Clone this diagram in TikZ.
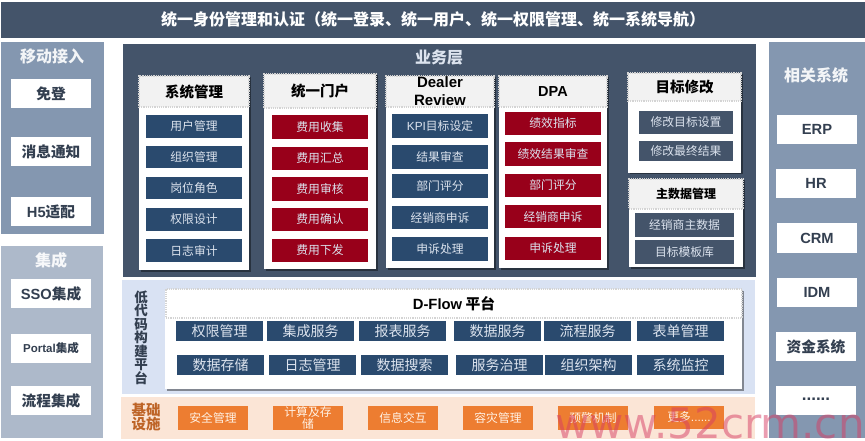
\documentclass[tikz,border=0pt]{standalone}
\usepackage{fontspec}
\setmainfont{Noto Sans CJK SC}
\newfontfamily\lat{Liberation Sans}
\newfontfamily\wmfont{DejaVu Sans}
\usetikzlibrary{shadows}
\definecolor{slate}{HTML}{44546A}
\definecolor{steel}{HTML}{8497B0}
\definecolor{pale}{HTML}{ADB9CA}
\definecolor{navy}{HTML}{2A4A6E}
\definecolor{wine}{HTML}{98001A}
\definecolor{lowbg}{HTML}{D9E2F3}
\definecolor{infrabg}{HTML}{FBE5D6}
\definecolor{orangebox}{HTML}{ED7D31}
\definecolor{hdr}{HTML}{F2F2F2}
\definecolor{dots}{HTML}{D4D4D4}
\definecolor{lighttext}{HTML}{DCE3EE}
\definecolor{ink}{HTML}{333F50}
\newcommand{\fs}[1]{\fontsize{#1}{#1}\selectfont}
\tikzset{
 x=1pt,y=-1pt,
 blk/.style={inner sep=0pt,outer sep=0pt,align=center},
 band/.style={blk,fill=#1},
 wbox/.style={blk,fill=white,text=ink,font=\fs{14.7}\bfseries},
 card/.style={blk,fill=white,drop shadow={shadow xshift=1.5pt,shadow yshift=-1.5pt,fill=black,opacity=.4}},
 head/.style={blk,fill=hdr,draw=dots,densely dotted,line width=1.2pt,text=black,font=\fs{14.5}\bfseries},
 item/.style={blk,fill=navy,text=lighttext,font=\fs{11.8}},
 redit/.style={blk,fill=wine,text=lighttext,font=\fs{11.8}},
 slit/.style={blk,fill=slate,text=lighttext,font=\fs{11.8}},
 flit/.style={blk,fill=navy,text=lighttext,font=\fs{14}},
 orit/.style={blk,fill=orangebox,text=white!90!orange,font=\fs{11.8}},
 lbl/.style={blk},
}
\newcommand{\bx}[7][]{\node[#2,#1,minimum width={(#5-#3)*1pt},minimum height={(#6-#4)*1pt}] (#7) at ({(#3+#5)/2},{(#4+#6)/2})}
\begin{document}
\begin{tikzpicture}
\useasboundingbox (0,0) rectangle (865,441);
\clip (0,0) rectangle (865,441);
% bands
\bx{band=slate}{1}{2}{865}{38}{top} {};
\node[lbl,text=white,font=\fs{16}\bfseries] (title) at (433,19.5) {统一身份管理和认证（统一登录、统一用户、统一权限管理、统一系统导航）};
\bx{band=steel}{1}{42}{104}{234}{pmobile} {};
\bx{band=pale}{1}{246}{103}{438}{pinteg} {};
\bx{band=slate}{123}{44}{756}{277}{pbiz} {};
\bx{band=lowbg}{122}{280}{755}{394}{plow} {};
\bx{band=infrabg}{121}{397}{755}{439}{pinfra} {};
\bx{band=steel}{769}{42}{865}{438}{prel} {};
% left
\node[lbl,text=white!90!steel,font=\fs{16}\bfseries] (tmobile) at (52,56.5) {移动接入};
\bx{wbox}{11}{79}{91}{108}{l1} {免登};
\bx{wbox}{11}{137}{91}{166}{l2} {消息通知};
\bx{wbox}{11}{197}{91}{226}{l3} {{\lat\bfseries H5}适配};
\node[lbl,text=white!90!pale,font=\fs{16}\bfseries] (tinteg) at (51,260) {集成};
\bx{wbox}{11}{279}{91}{308}{l4} {{\lat\bfseries SSO}集成};
\bx[font=\fs{11.5}\bfseries]{wbox}{11}{334}{91}{363}{l5} {{\lat\bfseries Portal}集成};
\bx{wbox}{11}{386}{91}{415}{l6} {流程集成};
% right
\node[lbl,text=white!90!steel,font=\fs{16}\bfseries] (trel) at (816,75) {相关系统};
\bx{wbox}{777}{115}{857}{144}{r1} {\lat\bfseries ERP};
\bx{wbox}{776}{169}{856}{198}{r2} {\lat\bfseries HR};
\bx{wbox}{777}{223}{857}{253}{r3} {\lat\bfseries CRM};
\bx{wbox}{777}{278}{857}{307}{r4} {\lat\bfseries IDM};
\bx{wbox}{776}{332}{856}{361}{r5} {资金系统};
\bx{wbox}{776}{386}{856}{415}{r6} {\raisebox{3pt}{\fontsize{17}{17}\selectfont\lat\bfseries ......}};
% business
\node[lbl,text=lighttext,font=\fs{16}\bfseries] (tbiz) at (439,58) {业务层};
% col 1
\bx{card}{139}{76}{249}{270}{c1} {};
\bx{head}{139}{76}{249}{107}{c1h} {\raisebox{1pt}{系统管理}};
\bx{item}{146}{115}{242}{138}{a1} {用户管理};
\bx{item}{146}{146}{242}{168}{a2} {组织管理};
\bx{item}{146}{177}{242}{199}{a3} {岗位角色};
\bx{item}{146}{208}{242}{231}{a4} {权限设计};
\bx{item}{146}{239}{242}{262}{a5} {日志审计};
% col 2
\bx{card}{264}{74}{376}{269}{c2} {};
\bx{head}{264}{74}{376}{108}{c2h} {统一门户};
\bx{redit}{272}{115}{368}{139}{b1} {费用收集};
\bx{redit}{272}{147}{368}{170}{b2} {费用汇总};
\bx{redit}{272}{177}{368}{201}{b3} {费用审核};
\bx{redit}{272}{208}{368}{231}{b4} {费用确认};
\bx{redit}{272}{239}{368}{262}{b5} {费用下发};
% col 3
\bx{card}{386}{76}{494}{268}{c3} {};
\bx{head}{386}{76}{494}{107}{c3h} {};
\node[lbl,text=black,font={\fs{15}\lat\bfseries}] (c3t) at (440,91) {Dealer\\[3pt]Review};
\bx{item}{392}{114}{488}{138}{d1} {{\lat KPI}目标设定};
\bx{item}{392}{145}{488}{169}{d2} {结果审查};
\bx{item}{392}{174}{488}{198}{d3} {部门评分};
\bx{item}{392}{206}{488}{229}{d4} {经销商申诉};
\bx{item}{392}{237}{488}{261}{d5} {申诉处理};
% col 4
\bx{card}{499}{76}{607}{268}{c4} {};
\bx{head}{499}{76}{607}{107}{c4h} {\lat\bfseries DPA};
\bx{redit}{505}{112}{601}{135}{e1} {绩效指标};
\bx{redit}{505}{142}{601}{166}{e2} {绩效结果审查};
\bx{redit}{505}{174}{601}{197}{e3} {部门评分};
\bx{redit}{505}{205}{601}{228}{e4} {经销商申诉};
\bx{redit}{505}{237}{601}{260}{e5} {申诉处理};
% col 5
\bx{card}{628}{73}{741}{173}{c5} {};
\bx{head}{628}{73}{741}{101}{c5h} {目标修改};
\bx{slit}{639}{111}{733}{134}{f1} {修改目标设置};
\bx{slit}{639}{141}{733}{161}{f2} {修改最终结果};
\bx{card}{629}{179}{743}{267}{c6} {};
\bx[font=\fs{12}\bfseries]{head}{629}{179}{743}{209}{c6h} {主数据管理};
\bx{slit}{635}{213}{734}{237}{g1} {经销商主数据};
\bx{slit}{635}{240}{734}{264}{g2} {目标模板库};
% low code
\node[lbl,text=ink,font=\fs{13.5}\bfseries,align=center] (tlow) at (141,337.5) {\fontsize{13.5}{13}\selectfont 低\\代\\码\\构\\建\\平\\台};
\bx{card}{165}{289}{742}{389}{cf} {};
\bx[fill=white,font=\fs{14.8}\bfseries]{head}{166}{289}{742}{318}{cfh} {\raisebox{-2pt}{{\lat\bfseries D-Flow} 平台}};
\bx{flit}{176}{321}{263}{341}{h1} {权限管理};
\bx{flit}{267}{321}{354}{341}{h2} {集成服务};
\bx{flit}{359}{321}{446}{341}{h3} {报表服务};
\bx{flit}{454}{321}{541}{341}{h4} {数据服务};
\bx{flit}{544}{321}{631}{341}{h5} {流程服务};
\bx{flit}{637}{321}{724}{341}{h6} {表单管理};
\bx{flit}{177}{355}{264}{375}{k1} {数据存储};
\bx{flit}{269}{355}{356}{375}{k2} {日志管理};
\bx{flit}{361}{355}{448}{375}{k3} {数据搜索};
\bx{flit}{456}{355}{543}{375}{k4} {服务治理};
\bx{flit}{545}{355}{632}{375}{k5} {组织架构};
\bx{flit}{637}{355}{724}{375}{k6} {系统监控};
% infra
\node[lbl,text=orangebox!80!black,font=\fs{14.5}\bfseries,align=center] (tinfra) at (146,417) {\fontsize{14.5}{18}\selectfont 基础\\设施};
\bx{orit}{178}{406}{248}{430}{m1} {安全管理};
\bx{orit}{273}{406}{343}{430}{m2} {\fontsize{11.8}{14.5}\selectfont 计算及存\\储};
\bx{orit}{368}{406}{438}{430}{m3} {信息交互};
\bx{orit}{463}{406}{533}{430}{m4} {容灾管理};
\bx{orit}{558}{406}{628}{430}{m5} {预警机制};
\bx{orit}{654}{406}{724}{429}{m6} {更多{\lat ......}};
% watermark
\node[lbl,anchor=base west,text={rgb,255:red,214;green,60;blue,100},opacity=.5,font={\fontsize{42}{42}\selectfont\wmfont}] (wm) at (555,438.5) {www.52crm.cn};
\end{tikzpicture}
\end{document}
